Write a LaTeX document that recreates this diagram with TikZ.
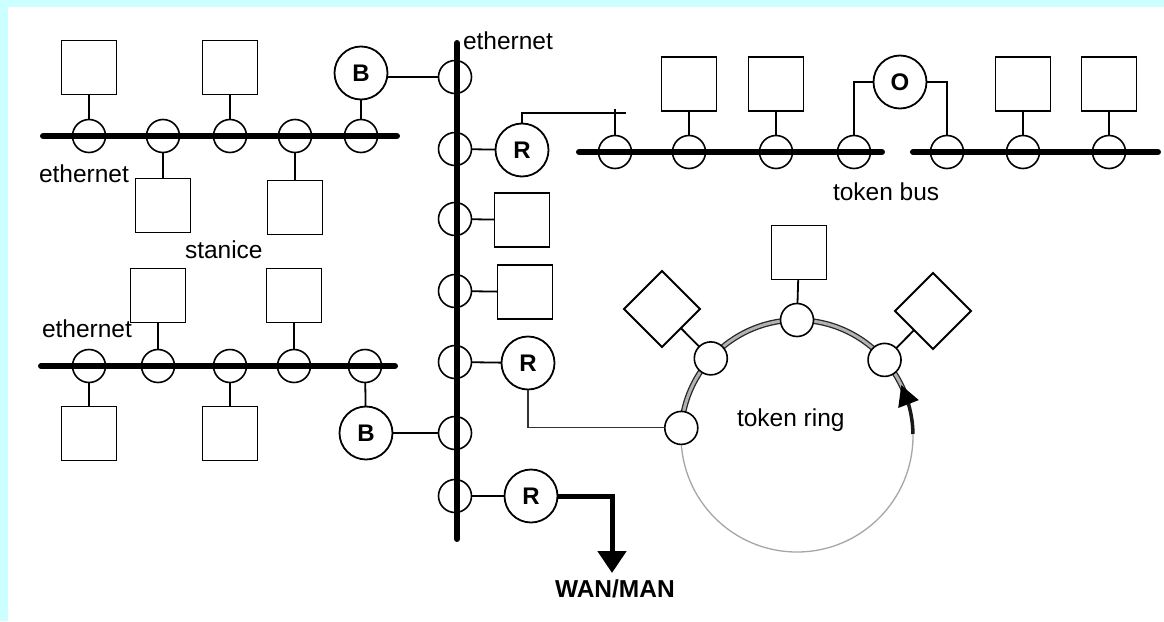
\documentclass[tikz,border=0pt]{standalone}
\usepackage{fontspec}
\setmainfont{Liberation Sans}
\usetikzlibrary{shapes.geometric,arrows.meta,calc}
\definecolor{bgcyan}{RGB}{204,255,255}
\begin{document}
\begin{tikzpicture}[x=1pt,y=-1pt,
 every node/.style={inner sep=0pt, outer sep=0pt},
 tap/.style={circle, draw, line width=1.6pt, minimum size=33pt},
 rtap/.style={tap, fill=white},
 station/.style={rectangle, draw, line width=1.8pt, minimum width=55pt, minimum height=54pt},
 dev/.style={circle, draw, line width=1.8pt, minimum size=53pt, font=\fontsize{24}{28}\selectfont\bfseries},
 dia/.style={diamond, draw, line width=1.8pt, minimum width=76pt, minimum height=76pt},
 bus/.style={line width=6pt, line cap=round},
 link/.style={line width=1.8pt},
 thinlink/.style={line width=1.1pt},
 lbl/.style={anchor=base west, font=\fontsize{24.5}{28}\selectfont},
]
% background
\fill[bgcyan] (0,0) rectangle (1164,621);
\fill[white] (8,7) rectangle (1164,621);
\useasboundingbox (0,0) rectangle (1164,621);

% ---------------- top-left ethernet
\draw[bus] (43,136) -- (397,136);
\node[tap] (a1) at (89,136) {};
\node[tap] (a2) at (163,136) {};
\node[tap] (a3) at (230,136) {};
\node[tap] (a4) at (295,136) {};
\node[tap] (a5) at (361,136) {};
\node[station] (s1) at (89,67.5) {};
\node[station] (s2) at (230,67.5) {};
\node[station] (s3) at (163,205.5) {};
\node[station] (s4) at (295,207.5) {};
\node[dev] (B1) at (361,73) {B};
\draw[link] (s1) -- (a1);
\draw[link] (s2) -- (a3);
\draw[link] (s3) -- (a2);
\draw[link] (s4) -- (a4);
\draw[link] (B1) -- (a5);

% ---------------- backbone
\draw[bus] (457,43) -- (457,539);
\node[tap] (bt1) at (455,77) {};
\node[tap] (bt2) at (455,149) {};
\node[tap] (bt3) at (455,219) {};
\node[tap] (bt4) at (455,291) {};
\node[tap] (bt5) at (455,362) {};
\node[tap] (bt6) at (455,433) {};
\node[tap] (bt7) at (455,496) {};
\node[dev] (R1) at (522,150) {R};
\node[station] (b3) at (522,220) {};
\node[station] (b4) at (525,292) {};
\node[dev] (R2) at (528,363) {R};
\node[dev] (R3) at (531,496) {R};
\draw[link] (bt1.west) -- (bt1.west -| B1.east);
\draw[link] (bt2) -- (R1);
\draw[link] (bt3) -- (b3);
\draw[link] (bt4) -- (b4);
\draw[link] (bt5) -- (R2);
\draw[thinlink] (bt7) -- (R3);

% ---------------- bottom-left ethernet
\draw[bus] (41,366) -- (395,366);
\node[tap] (c1) at (89,366) {};
\node[tap] (c2) at (158,366) {};
\node[tap] (c3) at (230,366) {};
\node[tap] (c4) at (294,366) {};
\node[tap] (c5) at (365,366) {};
\node[station] (d1) at (158,295.5) {};
\node[station] (d2) at (294,295.5) {};
\node[station] (d3) at (89,433.5) {};
\node[station] (d4) at (230,433.5) {};
\node[dev] (B2) at (366,433) {B};
\draw[link] (d1) -- (c2);
\draw[link] (d2) -- (c4);
\draw[link] (d3) -- (c1);
\draw[link] (d4) -- (c3);
\draw[link] (B2) -- (c5);
\draw[link] (B2) -- (bt6);

% ---------------- token bus
\draw[bus] (579,152) -- (882,152);
\draw[bus] (913,152) -- (1158,152);
\node[tap] (tb1) at (615,152) {};
\node[tap] (tb2) at (689,152) {};
\node[tap] (tb3) at (776,152) {};
\node[tap] (tb4) at (854,152) {};
\node[tap] (tb5) at (947,152) {};
\node[tap] (tb6) at (1023,152) {};
\node[tap] (tb7) at (1109,152) {};
\node[station] (u1) at (689,84) {};
\node[station] (u2) at (776,84) {};
\node[station] (u3) at (1023,84) {};
\node[station] (u4) at (1109,84) {};
\node[dev] (O) at (900,82) {O};
\draw[link] (u1) -- (tb2);
\draw[link] (u2) -- (tb3);
\draw[link] (u3) -- (tb6);
\draw[link] (u4) -- (tb7);
\draw[thinlink] (O.west) -| (tb4.north);
\draw[thinlink] (O.east) -| (tb5.north);
\coordinate (rend) at (626,113);
\coordinate (tick) at (615,109);
\draw[thinlink] (R1.north) |- (rend);
\draw[link] (tick) -- (tb1.north);

% ---------------- token ring
\node[circle, draw=gray!70, line width=1.3pt, minimum size=232pt] (ring) at (797,436) {};
\draw[draw=black!85, double=gray!60, double distance=3pt, line width=1.3pt]
  (ring.176) arc[start angle=176, end angle=16, radius=116pt];
\draw[black!90, line width=3.5pt]
  (ring.1) arc[start angle=1, end angle=16, radius=116pt];
\coordinate (ahbase) at (ring.16);
\coordinate (ahtip) at (ring.26);
\fill[black] ($(ahtip)$) -- ($(ahbase)!11pt!90:(ahtip)$) -- ($(ahbase)!11pt!-90:(ahtip)$) -- cycle;
\node[rtap] (rt1) at (ring.176) {};
\node[rtap] (rt2) at (ring.138) {};
\node[rtap] (rt3) at (ring.90) {};
\node[rtap] (rt4) at (ring.41) {};
\node[dia] (q1) at (662,309) {};
\node[dia] (q2) at (933,311) {};
\node[station] (q3) at (799,252.5) {};
\draw[link] (rt2) -- (q1);
\draw[link] (rt4) -- (q2);
\draw[link] (rt3) -- (q3);
\draw[thinlink, black!80] (R2.south) |- (rt1.west);

% ---------------- WAN
\coordinate (wanend) at (612,573);
\draw[line width=5pt, -{Triangle[length=22pt,width=28pt]}] (R3.east) -| (wanend);

% ---------------- labels
\node[lbl] (l1) at (39,182) {ethernet};
\node[lbl] (l2) at (185,258) {stanice};
\node[lbl] (l3) at (42,337) {ethernet};
\node[lbl] (l4) at (463,49) {ethernet};
\node[lbl] (l5) at (833,200) {token bus};
\node[lbl] (l6) at (737,426) {token ring};
\node[lbl, font=\fontsize{24.5}{28}\selectfont\bfseries] (l7) at (555,597) {WAN/MAN};
\end{tikzpicture}
\end{document}
